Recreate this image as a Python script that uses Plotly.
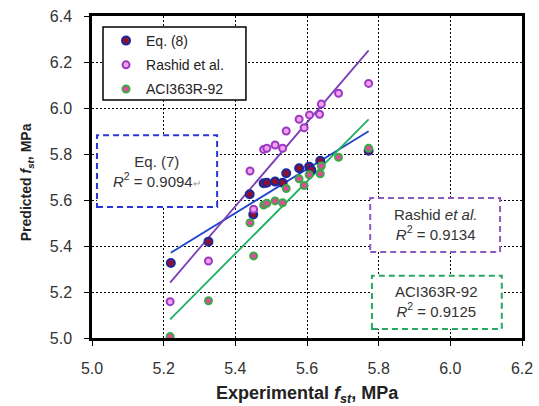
import numpy as np
import plotly.graph_objects as go

# Data (MPa)
eq8_x = [5.22, 5.325, 5.44, 5.45, 5.479, 5.488, 5.511, 5.532, 5.542, 5.578, 5.606, 5.612, 5.637, 5.772]
eq8_y = [5.326, 5.419, 5.625, 5.537, 5.673, 5.675, 5.680, 5.675, 5.716, 5.738, 5.745, 5.730, 5.771, 5.814]

rashid_x = [5.218, 5.325, 5.441, 5.451, 5.479, 5.488, 5.511, 5.532, 5.542, 5.578, 5.592, 5.607, 5.635, 5.640, 5.688, 5.772]
rashid_y = [5.158, 5.335, 5.726, 5.560, 5.820, 5.825, 5.839, 5.825, 5.900, 5.951, 5.914, 5.970, 5.973, 6.017, 6.064, 6.107]

aci_x = [5.218, 5.325, 5.441, 5.451, 5.479, 5.488, 5.511, 5.532, 5.542, 5.578, 5.592, 5.606, 5.637, 5.640, 5.688, 5.772]
aci_y = [5.006, 5.162, 5.501, 5.357, 5.578, 5.586, 5.596, 5.588, 5.650, 5.692, 5.663, 5.710, 5.714, 5.748, 5.786, 5.825]

tick_vals = [5.0, 5.2, 5.4, 5.6, 5.8, 6.0, 6.2, 6.4]
tick_text = ["5.0", "5.2", "5.4", "5.6", "5.8", "6.0", "6.2", "6.4"]

x_title = "<b>Experimental <i>f</i><sub><i>st</i></sub>, MPa</b>"
y_title = "<b>Predicted <i>f</i><sub><i>st</i></sub>, MPa</b>"

r2_eq7 = "0.9094"
r2_rashid = "0.9134"
r2_aci = "0.9125"

FONT = "Liberation Sans, Arial, sans-serif"

fig = go.Figure()


def trend(xs, ys):
    m, b = np.polyfit(xs, ys, 1)
    xe = np.array([min(xs), max(xs)])
    return xe, m * xe + b


series = [
    ("Eq. (8)", eq8_x, eq8_y, "#8E1030", "#1A2A9C", 8, "#1F45C8"),
    ("Rashid et al.", rashid_x, rashid_y, "#F4A0F0", "#9A3AC0", 7, "#7A3FB5"),
    ("ACI363R-92", aci_x, aci_y, "#E4489E", "#3BAA45", 7, "#1FB062"),
]

for name, xs, ys, fill, edge, size, lc in series:
    xe, ye = trend(xs, ys)
    fig.add_trace(go.Scatter(x=xe, y=ye, mode="lines", line=dict(color=lc, width=1.8),
                             showlegend=False, hoverinfo="skip"))

for i, (name, xs, ys, fill, edge, size, lc) in enumerate(series):
    fig.add_trace(go.Scatter(x=xs, y=ys, mode="markers", name=name, legendgroup=str(i),
                             marker=dict(size=size, color=fill, line=dict(color=edge, width=2))))

boxes = [
    (0.0116, 0.291, 0.407, 0.630, "#2A35D8", 0.151, 0.516,
     "Eq. (7)<br><i>R</i><sup>2</sup> = " + r2_eq7 + "<span style='font-size:10px;color:#999'>↵</span>"),
    (0.647, 0.949, 0.267, 0.435, "#8B5CC0", 0.798, 0.351,
     "Rashid <i>et al.</i><br><i>R</i><sup>2</sup> = " + r2_rashid),
    (0.651, 0.953, 0.028, 0.193, "#27A860", 0.802, 0.112,
     "ACI363R-92<br><i>R</i><sup>2</sup> = " + r2_aci),
]
shapes = [
    # legend frame
    dict(type="rect", xref="paper", yref="paper", x0=0.0256, x1=0.358, y0=0.739, y1=0.966,
         line=dict(color="black", width=1.5), fillcolor="white", layer="above"),
]
annotations = []
for x0, x1, y0, y1, col, tx, ty, txt in boxes:
    shapes.append(dict(type="rect", xref="paper", yref="paper", x0=x0, x1=x1, y0=y0, y1=y1,
                       line=dict(color=col, width=2, dash="6px,4px"), fillcolor="white", layer="above"))
    annotations.append(dict(xref="paper", yref="paper", x=tx, y=ty, text=txt, showarrow=False,
                            xanchor="center", yanchor="middle",
                            font=dict(family=FONT, size=15, color="#333333"), align="center"))

# axis titles
annotations.append(dict(xref="paper", yref="paper", x=0.5, y=-0.177, text=x_title, showarrow=False,
                        xanchor="center", yanchor="middle",
                        font=dict(family=FONT, size=18, color="#222222")))
annotations.append(dict(xref="paper", yref="paper", x=-0.151, y=0.484, text=y_title, showarrow=False,
                        xanchor="center", yanchor="middle", textangle=-90,
                        font=dict(family=FONT, size=14, color="#222222")))

axis_common = dict(
    showline=True, linecolor="black", linewidth=2.5, mirror=True,
    showgrid=True, gridcolor="black", gridwidth=1, griddash="2px,2px",
    ticks="outside", ticklen=5, tickcolor="black", tickwidth=1,
    tickfont=dict(family=FONT, size=16, color="#333333"),
    zeroline=False, automargin=False, ticklabeloverflow="allow",
)

fig.update_layout(
    width=539, height=406,
    margin=dict(l=92, r=17, t=16, b=68),
    paper_bgcolor="white", plot_bgcolor="white",
    font=dict(family=FONT),
    xaxis=dict(range=[5.0, 6.2], tickvals=tick_vals[:7], ticktext=tick_text[:7],
               ticklabelstandoff=9, **axis_common),
    yaxis=dict(range=[5.0, 6.4], tickvals=tick_vals, ticktext=tick_text,
               ticklabelstandoff=9, **axis_common),
    legend=dict(x=0.0326, y=0.972, xanchor="left", yanchor="top",
                bgcolor="rgba(0,0,0,0)", borderwidth=0,
                font=dict(family=FONT, size=14, color="#222222"), tracegroupgap=3,
                itemwidth=30),
    shapes=shapes, annotations=annotations,
    showlegend=True,
)

fig.write_html("out.html", config={"displayModeBar": False},
               post_script="document.body.style.margin='0';document.body.style.overflow='hidden';")
